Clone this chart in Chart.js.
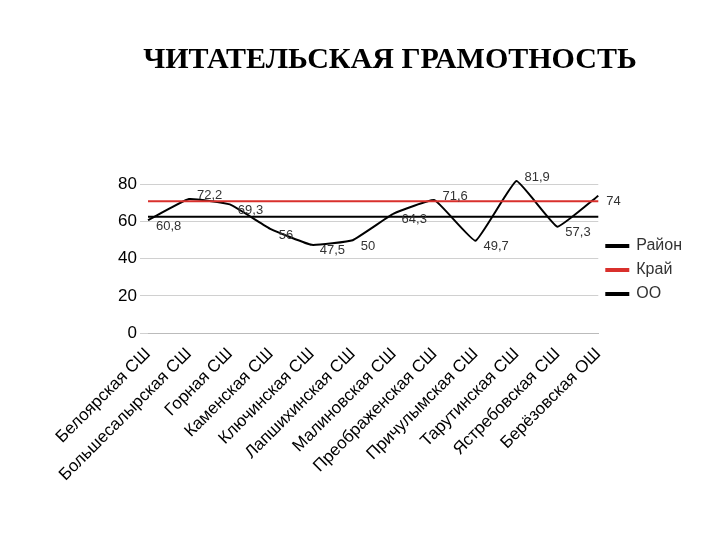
<!DOCTYPE html>
<html>
<head>
<meta charset="utf-8">
<script src="https://cdn.jsdelivr.net/npm/chart.js@4"></script>
<style>
  body { margin: 0; background: #fff; }
  #wrap { width: 720px; height: 540px; }
</style>
</head>
<body>
<div id="wrap"><canvas id="c"></canvas></div>
<script>
var schools = ['Белоярская СШ', 'Большесалырская СШ', 'Горная СШ', 'Каменская СШ',
  'Ключинская СШ', 'Лапшихинская СШ', 'Малиновская СШ', 'Преображенская СШ',
  'Причулымская СШ', 'Тарутинская СШ', 'Ястребовская СШ', 'Берёзовская ОШ'];
var ooValues = [60.8, 72.2, 69.3, 56, 47.5, 50, 64.3, 71.6, 49.7, 81.9, 57.3, 74];
var rayonValue = 62.7;
var kraiValue = 71;
var yTicks = [0, 10, 20, 30, 40, 50, 60, 70, 80, 90];

// value labels next to the OO points
var pointLabels = {
  id: 'pointLabels',
  afterDatasetsDraw: function (chart) {
    var ctx = chart.ctx;
    var meta = chart.getDatasetMeta(2);
    ctx.save();
    ctx.font = '13px "Liberation Sans"';
    ctx.fillStyle = '#333';
    ctx.textBaseline = 'middle';
    meta.data.forEach(function (pt, i) {
      var txt = String(ooValues[i]).replace('.', ',');
      var up = i > 0 && i < ooValues.length - 1 && ooValues[i] >= ooValues[i - 1] && ooValues[i] >= ooValues[i + 1];
      ctx.fillText(txt, pt.x + 8, pt.y + (up ? -4 : 6));
    });
    ctx.restore();
  }
};

new Chart(document.getElementById('c'), {
  type: 'line',
  data: {
    labels: schools,
    datasets: [
      { label: 'Район', data: schools.map(function () { return rayonValue; }),
        borderColor: '#000', borderWidth: 2, pointRadius: 0 },
      { label: 'Край', data: schools.map(function () { return kraiValue; }),
        borderColor: '#d9302c', borderWidth: 2, pointRadius: 0 },
      { label: 'ОО', data: ooValues, borderColor: '#000', borderWidth: 2,
        pointRadius: 0, tension: 0.1 }
    ]
  },
  options: {
    responsive: true,
    maintainAspectRatio: false,
    animation: false,
    layout: { padding: { left: 88, right: 28, top: 0, bottom: 0 } },
    plugins: {
      title: {
        display: true,
        text: 'ЧИТАТЕЛЬСКАЯ ГРАМОТНОСТЬ',
        color: '#000',
        font: { family: '"Liberation Serif"', size: 30, weight: 'bold' },
        padding: { top: 42, bottom: 88 }
      },
      legend: {
        position: 'right',
        align: 'center',
        labels: {
          color: '#333',
          font: { family: '"Liberation Sans"', size: 16 },
          boxWidth: 22, boxHeight: 2,
          padding: 8
        }
      },
      tooltip: { enabled: false }
    },
    scales: {
      x: {
        grid: { display: false },
        border: { color: '#bbb' },
        afterFit: function (s) { s.height = 207; },
        ticks: {
          color: '#000', maxRotation: 45, minRotation: 45, autoSkip: false,
          font: { family: '"Liberation Sans"', size: 17 }
        }
      },
      y: {
        min: 0, max: 90,
        afterBuildTicks: function (s) { s.ticks = yTicks.map(function (v) { return { value: v }; }); },
        afterFit: function (s) { s.width = 60; },
        grid: { color: '#d0d0d0' },
        border: { display: false },
        ticks: { color: '#000', font: { family: '"Liberation Sans"', size: 17 } }
      }
    }
  },
  plugins: [pointLabels]
});
</script>
</body>
</html>
